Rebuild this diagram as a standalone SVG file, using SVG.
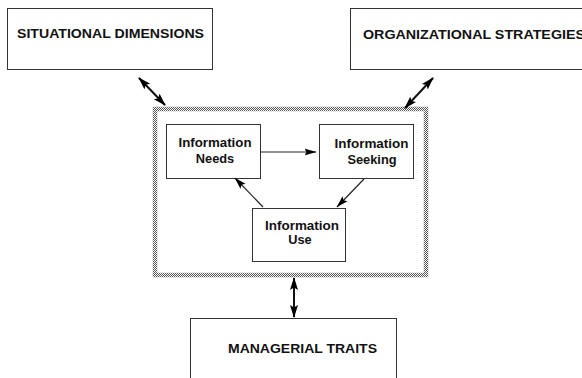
<svg xmlns="http://www.w3.org/2000/svg" width="582" height="378" viewBox="0 0 582 378">
<style>
.box{fill:#fff;stroke:#333;stroke-width:1}
.cap{font-family:"Liberation Sans",Arial,sans-serif;font-weight:bold;font-size:12.5px;fill:#111}
.in{font-family:"Liberation Sans",Arial,sans-serif;font-weight:bold;font-size:12.8px;fill:#111;text-anchor:middle}
.con{stroke:#222;stroke-width:1.2;fill:none}
.big{stroke:#111;stroke-width:2;fill:none}
</style>
<defs>
<pattern id="dither" patternUnits="userSpaceOnUse" width="2" height="2">
<rect width="2" height="2" fill="#fff"/>
<rect x="0" y="0" width="1" height="1" fill="#555"/>
<rect x="1" y="1" width="1" height="1" fill="#555"/>
</pattern>
<marker id="ah" markerUnits="userSpaceOnUse" viewBox="0 0 13 9" refX="12" refY="4.5" markerWidth="13" markerHeight="9" orient="auto-start-reverse">
<path d="M0,0.5 L13,4.5 L0,8.5 L2.5,4.5 z" fill="#000"/>
</marker>
<marker id="sh" markerUnits="userSpaceOnUse" viewBox="0 0 12 8" refX="11.5" refY="4" markerWidth="12" markerHeight="8" orient="auto">
<path d="M0,0.5 L12,4 L0,7.5 L2,4 z" fill="#000"/>
</marker>
</defs>
<rect width="582" height="378" fill="#fff"/>

<g id="situational">
<rect class="box" x="7.5" y="8.5" width="205" height="61"/>
<text class="cap" x="17" y="38" textLength="187" lengthAdjust="spacingAndGlyphs">SITUATIONAL DIMENSIONS</text>
</g>
<g id="organizational">
<rect class="box" x="350.5" y="8.5" width="240" height="61"/>
<text class="cap" x="363" y="39" textLength="222" lengthAdjust="spacingAndGlyphs">ORGANIZATIONAL STRATEGIES</text>
</g>
<g id="frame">
<rect x="155" y="109" width="271" height="166" fill="none" stroke="url(#dither)" stroke-width="4.5"/>
</g>
<g id="needs">
<rect class="box" x="166.5" y="124.5" width="94" height="54"/>
<text class="in" x="215" y="147" textLength="73" lengthAdjust="spacingAndGlyphs">Information</text>
<text class="in" x="215" y="163">Needs</text>
</g>
<g id="seeking">
<rect class="box" x="319.5" y="124.5" width="94" height="54"/>
<text class="in" x="371.5" y="148" textLength="74" lengthAdjust="spacingAndGlyphs">Information</text>
<text class="in" x="372" y="164">Seeking</text>
</g>
<g id="use">
<rect class="box" x="252.5" y="208.5" width="93" height="53"/>
<text class="in" x="302" y="230" textLength="74" lengthAdjust="spacingAndGlyphs">Information</text>
<text class="in" x="300" y="244">Use</text>
</g>
<g id="managerial">
<rect class="box" x="190.5" y="318.5" width="206" height="70"/>
<text class="cap" x="228" y="353" textLength="149" lengthAdjust="spacingAndGlyphs">MANAGERIAL TRAITS</text>
</g>
<g id="connectors">
<line class="big" x1="139" y1="78" x2="165" y2="105" marker-start="url(#ah)" marker-end="url(#ah)"/>
<line class="big" x1="433" y1="78" x2="405" y2="108" marker-start="url(#ah)" marker-end="url(#ah)"/>
<line class="big" x1="294" y1="278" x2="294" y2="317" marker-start="url(#ah)" marker-end="url(#ah)"/>
<line class="con" x1="260" y1="152" x2="316" y2="152" marker-end="url(#sh)"/>
<line class="con" x1="364" y1="179" x2="337" y2="207" marker-end="url(#sh)"/>
<line class="con" x1="263" y1="207" x2="235" y2="178" marker-end="url(#sh)"/>
</g>
</svg>
